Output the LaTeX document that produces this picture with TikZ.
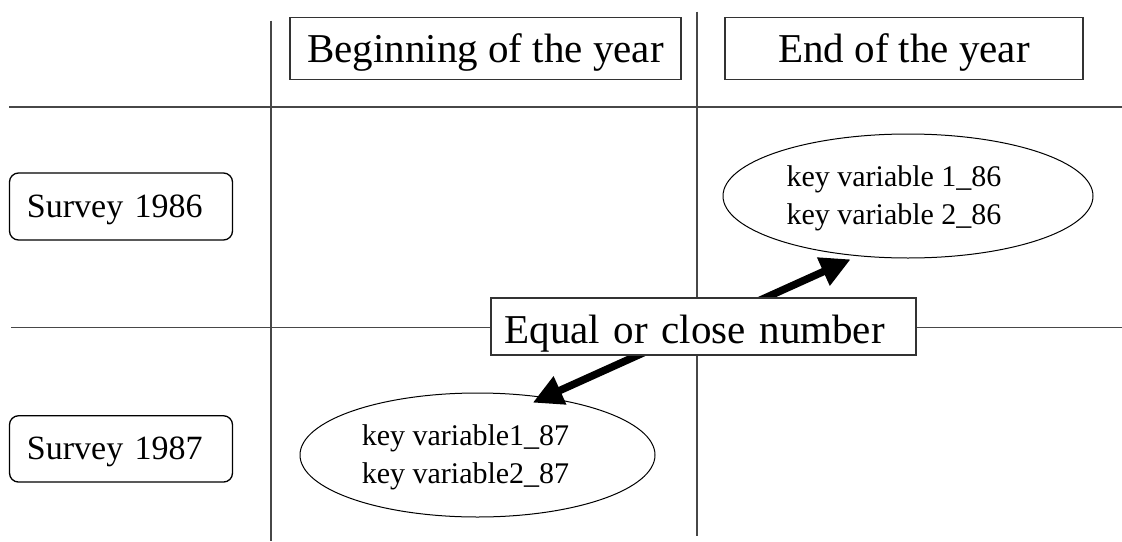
\documentclass[tikz,border=0pt]{standalone}
\usepackage{fontspec}
\setmainfont{Liberation Serif}
\usetikzlibrary{arrows.meta,shapes.geometric,calc}

\begin{document}
\begin{tikzpicture}[x=1pt,y=-1pt,
  gridline/.style={draw=black!72,line width=1.6pt},
  headbox/.style={rectangle,draw=black!80,line width=1.3pt,inner sep=0pt,
    minimum width=#1,minimum height=62pt,
    font=\fontsize{41}{49}\selectfont,text height=36pt,text depth=7pt},
  surveybox/.style={rectangle,draw=black,line width=1.3pt,rounded corners=9pt,
    inner xsep=17.5pt,inner ysep=0pt,text width=188pt,align=left,
    minimum height=67pt,font=\fontsize{34}{41}\selectfont,
    text height=27pt,text depth=6pt},
  notebox/.style={rectangle,draw=black!80,line width=1.3pt,fill=white,
    inner xsep=13.5pt,inner ysep=0pt,text width=398pt,align=left,
    minimum height=57pt,font=\fontsize{41}{49}\selectfont,
    text height=38pt,text depth=4.4pt},
  keyell/.style={ellipse,draw=black,line width=1pt,inner sep=0pt,
    minimum width=#1,minimum height=124pt},
  keytxt/.style={font=\fontsize{30}{37.7}\selectfont,align=center,inner sep=0pt},
  link/.style={line width=7.5pt,
    {Triangle[length=30pt,width=29pt]}-{Triangle[length=30pt,width=29pt]}}
]
\useasboundingbox (0,0) rectangle (1122,541);

% table rules
\draw[gridline] (271,20.7) -- (271,541);
\draw[gridline] (696.7,11.7) -- (696.7,536);
\draw[gridline] (9,106.7) -- (1122,106.7);
\draw[gridline] (11,327.3) -- (1122,327.3);

% column headings
\node[headbox=391pt] (begin) at (485.5,48.2) {Beginning of the year};
\node[headbox=358pt] (end) at (904,48.2) {End of the year};

% row headings
\node[surveybox] (s86) at (121,206.5) {Survey 1986};
\node[surveybox,minimum height=66.3pt] (s87) at (121,448.9) {Survey 1987};

% key variables
\node[keyell=370pt,label={[keytxt,xshift=-14pt,yshift=-2.6pt]center:{key variable 1\_86\\key variable 2\_86}}] (e86) at (908,196) {};
\node[keyell=355pt,label={[keytxt,xshift=-12pt,yshift=-2.6pt]center:{key variable1\_87\\key variable2\_87}}] (e87) at (477.5,455) {};

% link between the two surveys
\draw[link] ($(e87.center)+(55.2,-52.3)$) -- ($(e86.center)+(-57.3,63.3)$);

\node[notebox] (note) at (703.5,326.5) {Equal or close number};
\end{tikzpicture}
\end{document}
